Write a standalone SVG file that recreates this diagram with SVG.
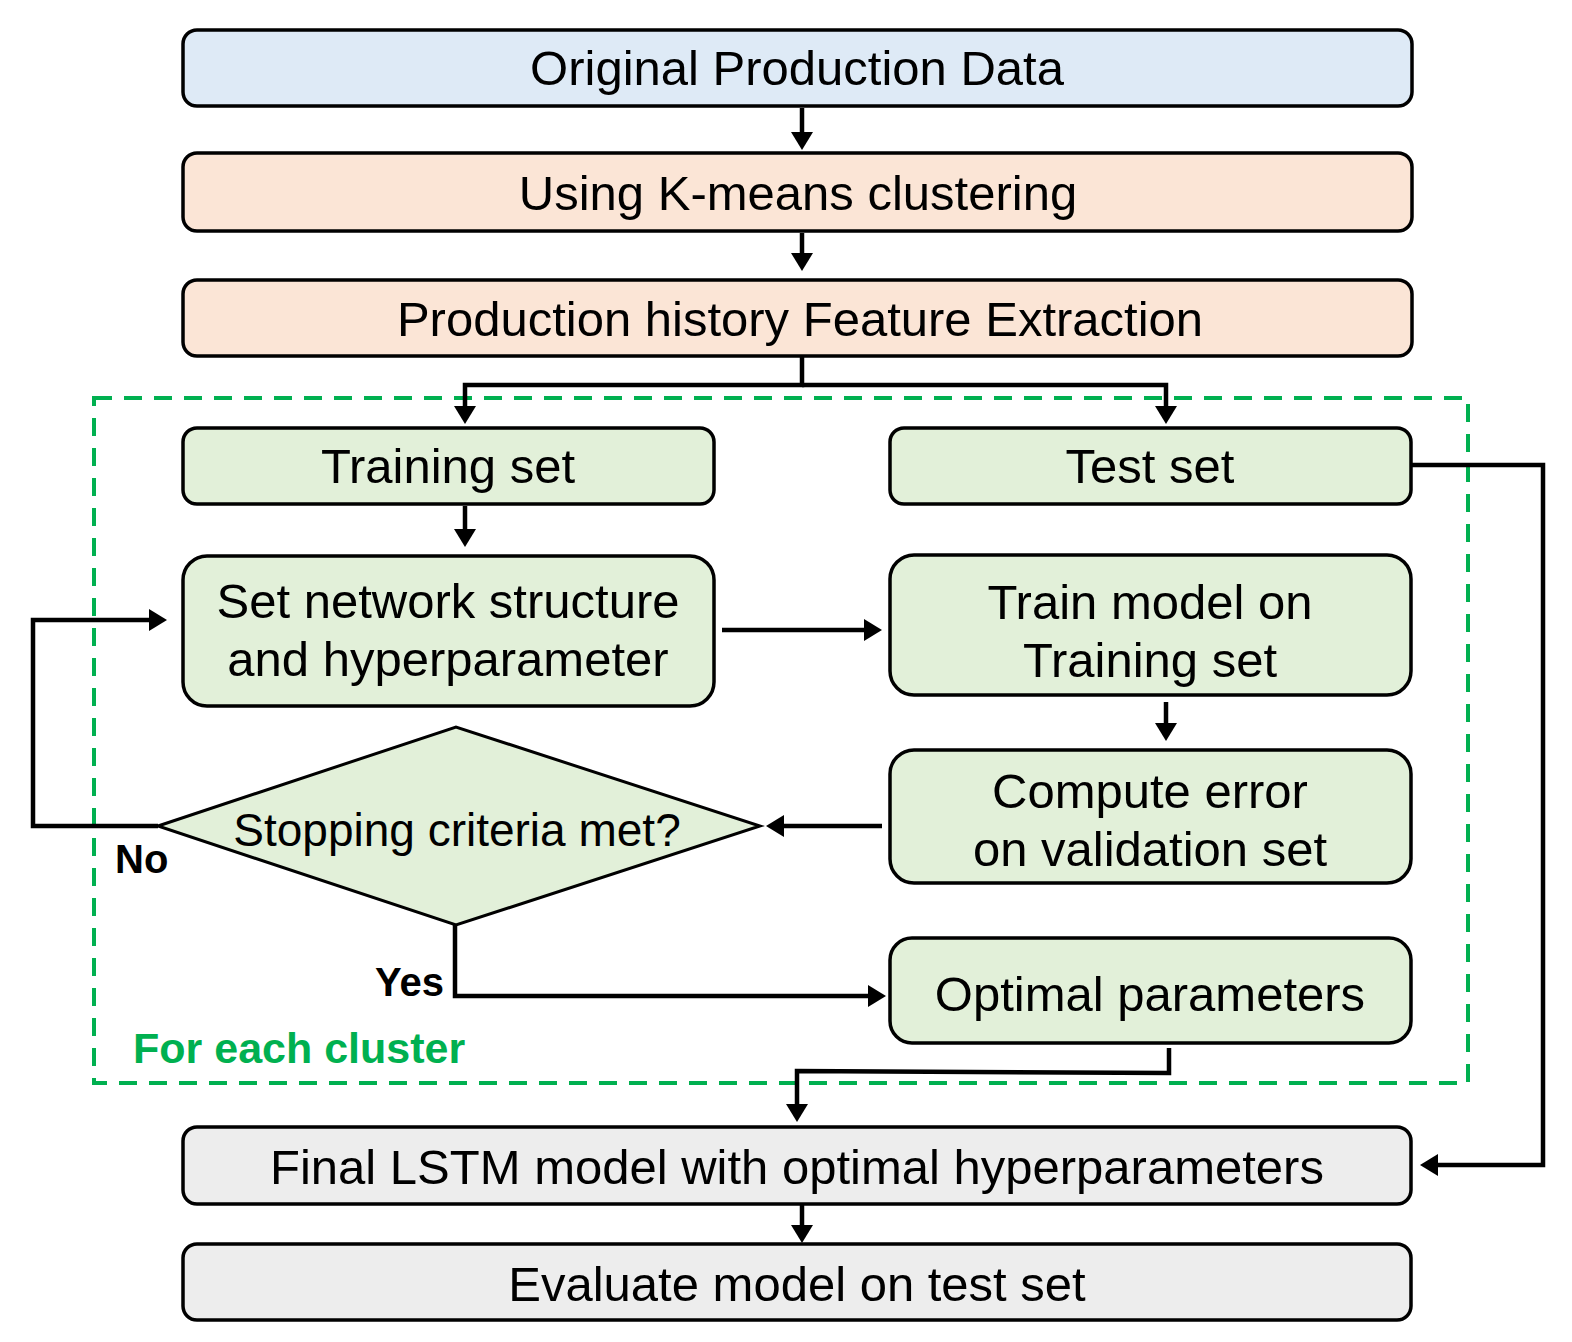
<svg xmlns="http://www.w3.org/2000/svg" width="1572" height="1342" viewBox="0 0 1572 1342">
<style>
.box{stroke:#000;stroke-width:3.5}
.blue{fill:#DEEAF6}
.peach{fill:#FBE5D6}
.green{fill:#E2F0D9}
.grey{fill:#EDEDED}
.t{font-family:"Liberation Sans",Arial,sans-serif;font-size:49px;fill:#000;text-anchor:middle}
.lbl{font-family:"Liberation Sans",Arial,sans-serif;font-size:40px;font-weight:bold;fill:#000}
.conn{fill:none;stroke:#000;stroke-width:4.5;stroke-linejoin:miter}
</style>
<defs>
<marker id="ah" markerUnits="userSpaceOnUse" markerWidth="22" markerHeight="24" refX="4" refY="12" orient="auto">
<path d="M0,1 L18,12 L0,23 z" fill="#000"/>
</marker>
</defs>
<rect width="1572" height="1342" fill="#fff"/>
<g id="cluster-frame">
<rect x="94" y="398" width="1374" height="685" fill="none" stroke="#00B050" stroke-width="4" stroke-dasharray="18,12"/>
<text x="133" y="1063" style="font-family:'Liberation Sans',Arial,sans-serif;font-size:43px;font-weight:bold;fill:#00B050">For each cluster</text>
</g>
<g id="connectors">
<line class="conn" x1="802" y1="108" x2="802" y2="136" marker-end="url(#ah)"/>
<line class="conn" x1="802" y1="233" x2="802" y2="257" marker-end="url(#ah)"/>
<path class="conn" d="M802,357 V385 H465 V410" marker-end="url(#ah)"/>
<path class="conn" d="M802,385 H1166 V410" marker-end="url(#ah)"/>
<line class="conn" x1="465" y1="506" x2="465" y2="533" marker-end="url(#ah)"/>
<line class="conn" x1="722" y1="630" x2="868" y2="630" marker-end="url(#ah)"/>
<line class="conn" x1="1166" y1="702" x2="1166" y2="727" marker-end="url(#ah)"/>
<line class="conn" x1="882" y1="826" x2="780" y2="826" marker-end="url(#ah)"/>
<path class="conn" d="M158,826 H33 V620 H153" marker-end="url(#ah)"/>
<path class="conn" d="M455,925 V996 H872" marker-end="url(#ah)"/>
<path class="conn" d="M1169,1048 V1073 L797,1071 V1108" marker-end="url(#ah)"/>
<path class="conn" d="M1411,465 H1543 V1165 H1434" marker-end="url(#ah)"/>
<line class="conn" x1="802" y1="1205" x2="802" y2="1229" marker-end="url(#ah)"/>
</g>
<g id="n1"><rect class="box blue" x="183" y="30" width="1229" height="76" rx="14"/><text class="t" x="797" y="85">Original Production Data</text></g>
<g id="n2"><rect class="box peach" x="183" y="153" width="1229" height="78" rx="14"/><text class="t" x="798" y="210">Using K-means clustering</text></g>
<g id="n3"><rect class="box peach" x="183" y="280" width="1229" height="76" rx="14"/><text class="t" x="800" y="336">Production history Feature Extraction</text></g>
<g id="n4"><rect class="box green" x="183" y="428" width="531" height="76" rx="14"/><text class="t" x="448" y="483">Training set</text></g>
<g id="n5"><rect class="box green" x="890" y="428" width="521" height="76" rx="14"/><text class="t" x="1150" y="483">Test set</text></g>
<g id="n6"><rect class="box green" x="183" y="556" width="531" height="150" rx="24"/><text class="t" x="448" y="618">Set network structure</text><text class="t" x="448" y="676">and hyperparameter</text></g>
<g id="n7"><rect class="box green" x="890" y="555" width="521" height="140" rx="24"/><text class="t" x="1150" y="619">Train model on</text><text class="t" x="1150" y="677">Training set</text></g>
<g id="n8"><rect class="box green" x="890" y="750" width="521" height="133" rx="24"/><text class="t" x="1150" y="808">Compute error</text><text class="t" x="1150" y="866">on validation set</text></g>
<g id="n9"><polygon class="green" points="158,826 456,727 760,826 456,925" stroke="#000" stroke-width="3"/><text class="t" x="457" y="846" style="font-size:46px">Stopping criteria met?</text></g>
<g id="n10"><rect class="box green" x="890" y="938" width="521" height="105" rx="22"/><text class="t" x="1150" y="1011">Optimal parameters</text></g>
<g id="n11"><rect class="box grey" x="183" y="1127" width="1228" height="77" rx="14"/><text class="t" x="797" y="1184">Final LSTM model with optimal hyperparameters</text></g>
<g id="n12"><rect class="box grey" x="183" y="1244" width="1228" height="76" rx="14"/><text class="t" x="797" y="1301">Evaluate model on test set</text></g>
<text class="lbl" x="115" y="873">No</text>
<text class="lbl" x="444" y="996" text-anchor="end">Yes</text>
</svg>
